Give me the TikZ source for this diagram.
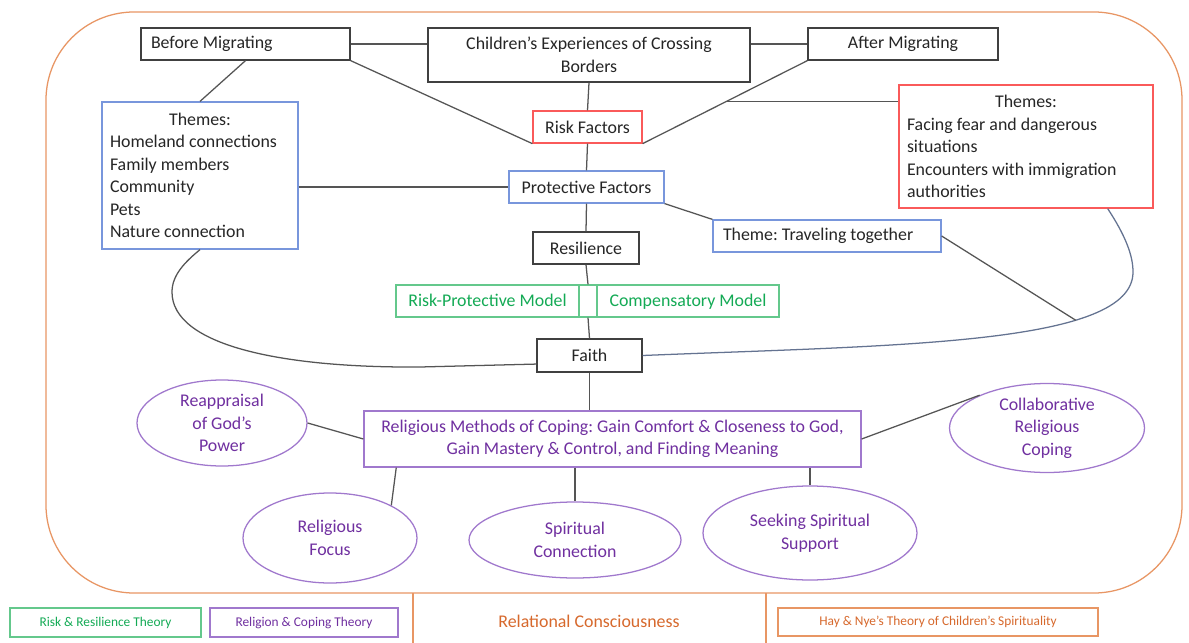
\documentclass[tikz,border=0pt]{standalone}
\usepackage{fontspec}
\setmainfont{Carlito}
\usetikzlibrary{shapes.geometric,calc}
\frenchspacing

\definecolor{txt}{RGB}{38,38,38}
\definecolor{blkline}{RGB}{64,64,64}
\definecolor{linkgray}{RGB}{85,85,85}
\definecolor{curveblue}{RGB}{100,115,145}
\definecolor{redline}{RGB}{250,90,90}
\definecolor{blueline}{RGB}{120,150,220}
\definecolor{greenline}{RGB}{100,200,140}
\definecolor{greentxt}{RGB}{20,170,85}
\definecolor{purpleline}{RGB}{160,120,205}
\definecolor{purpletxt}{RGB}{112,48,160}
\definecolor{orangeline}{RGB}{232,150,100}
\definecolor{orangetxt}{RGB}{215,105,45}

\def\pxu{0.025cm}

\begin{document}
\begin{tikzpicture}[x=0.025cm, y=-0.025cm,
    every node/.style={inner sep=0pt, text=txt, line width=0.9pt, font=\fontsize{12.7}{16}\selectfont},
    oneline/.style={text height=10pt, text depth=2pt},
    blk/.style={draw=blkline, align=center},
    riskbox/.style={draw=redline, align=center},
    protbox/.style={draw=blueline, align=center},
    modelbox/.style={draw=greenline, text=greentxt, oneline},
    copebox/.style={draw=purpleline, text=purpletxt, align=center},
    copeell/.style={ellipse, draw=purpleline, text=purpletxt, align=center},
    link/.style={draw=linkgray, line width=0.9pt},
    legend/.style={font=\fontsize{9.5}{11}\selectfont, text height=7pt, text depth=2pt}]

    \fill [white] (0,0) rectangle (1189,643);
    \useasboundingbox (0,0) rectangle (1189,643);

    \draw [orangeline, line width=0.9pt, rounded corners=2.2cm] (46,12) rectangle (1182,593);
    \draw [orangeline, line width=0.9pt] (413,593) -- (413,643) (766,593) -- (766,643);

    \node [blk, minimum height=32*\pxu, text width=189*\pxu, inner xsep=10*\pxu, align=flush left] (before) at (245.5,44) {Before Migrating};
    \node [blk, minimum width=322*\pxu, minimum height=54*\pxu] (children) at (589,55) {Children’s Experiences of Crossing\\Borders};
    \node [blk, minimum width=190*\pxu, minimum height=32*\pxu] (after) at (903,44) {After Migrating};

    \node [riskbox, minimum width=109*\pxu, minimum height=32*\pxu] (risk) at (587.5,127) {Risk Factors};
    \node [protbox, minimum width=155*\pxu, minimum height=32*\pxu] (prot) at (586.5,187) {Protective Factors};
    \node [blk, minimum width=106*\pxu, minimum height=32*\pxu] (resil) at (586,248) {Resilience};

    \node [protbox, minimum height=147*\pxu, text width=180*\pxu, inner xsep=8*\pxu, align=flush left] (lthemes) at (200,175.5)
        {\hfill Themes:\hfill\null\\Homeland connections\\Family members\\Community\\Pets\\Nature connection};
    \node [riskbox, minimum height=123*\pxu, text width=238*\pxu, inner xsep=8*\pxu, align=flush left] (rthemes) at (1026,146.5)
        {\hfill Themes:\hfill\null\\Facing fear and dangerous\\situations\\Encounters with immigration\\authorities};
    \node [protbox, minimum height=32*\pxu, text width=208*\pxu, inner xsep=10*\pxu, align=flush left] (travel) at (827,236) {Theme: Traveling together};

    \node [modelbox, minimum width=183*\pxu, minimum height=32*\pxu] (rpm) at (487.5,301) {Risk-Protective Model};
    \node [modelbox, minimum width=18*\pxu, minimum height=32*\pxu] (gap) at (588,301) {};
    \node [modelbox, minimum width=182*\pxu, minimum height=32*\pxu] (comp) at (688,301) {Compensatory Model};

    \node [blk, minimum width=105*\pxu, minimum height=33*\pxu] (faith) at (589.5,355.5) {Faith};
    \node [copebox, minimum width=497*\pxu, minimum height=56*\pxu] (rmc) at (612.5,439)
        {Religious Methods of Coping: Gain Comfort \& Closeness to God,\\Gain Mastery \& Control, and Finding Meaning};

    \node [copeell, minimum width=170*\pxu, minimum height=86*\pxu] (reap) at (222,423) {Reappraisal\\of God’s\\Power};
    \node [copeell, minimum width=174*\pxu, minimum height=90*\pxu] (focus) at (330,538) {Religious\\Focus};
    \node [copeell, minimum width=212*\pxu, minimum height=76*\pxu] (spirit) at (575,540) {Spiritual\\Connection};
    \node [copeell, minimum width=214*\pxu, minimum height=94*\pxu] (seek) at (810,533) {Seeking Spiritual\\Support};
    \node [copeell, minimum width=195*\pxu, minimum height=89*\pxu] (collab) at (1047,428) {Collaborative\\Religious\\Coping};

    \node [legend, draw=greenline, text=greentxt, minimum width=191*\pxu, minimum height=29*\pxu] (rrt) at (105.5,622.5) {Risk \& Resilience Theory};
    \node [legend, draw=purpleline, text=purpletxt, minimum width=188*\pxu, minimum height=29*\pxu] (rct) at (304,622.5) {Religion \& Coping Theory};
    \node [text=orangetxt, oneline] (relc) at (589,622) {Relational Consciousness};
    \node [legend, draw=orangeline, text=orangetxt, minimum width=320*\pxu, minimum height=28*\pxu] (hnt) at (938,622) {Hay \& Nye’s Theory of Children’s Spirituality};

    \draw [link] (before.east) -- (before.east -| children.west);
    \draw [link] (after.west -| children.east) -- (after.west);
    \draw [link] (before.south east) -- (risk.south west);
    \draw [link] (children.south) -- (risk.north);
    \draw [link] (after.south west) -- (risk.south east);
    \coordinate (br) at ($(after.south west)!0.494!(risk.south east)$);
    \draw [link] (br) -- (br -| rthemes.west);
    \draw [link] (before.south) -- (lthemes.north);

    \draw [link] (prot.west -| lthemes.east) -- (prot.west);
    \draw [link] (risk.south) -- (prot.north);
    \draw [link] (prot.south) -- (resil.north);
    \draw [link] (prot.south east) -- (travel.north west);
    \draw [link] (resil.south) -- (gap.north);
    \draw [link] (gap.south) -- (faith.north);
    \draw [link] (faith.south) -- (faith.south |- rmc.north);

    \draw [link] (lthemes.south) .. controls (185,262) and (172,275) .. (172,292)
        .. controls (172,345) and (280,368) .. (420,367) -- ($(faith.south west)!0.25!(faith.north west)$);
    \draw [link, curveblue] (faith.east) .. controls (900,345) and (1133,345) .. (1133,272) coordinate [pos=0.7] (tj)
        .. controls (1133,255) and (1125,235) .. ($(rthemes.south west)!0.82!(rthemes.south east)$);
    \draw [link] (travel.east) -- (tj);

    \draw [link] (reap.east) -- (rmc.west);
    \draw [link] (rmc.east) -- (collab.154);
    \draw [link] ($(rmc.south west)!0.066!(rmc.south east)$) -- (focus.28);
    \draw [link] (rmc.south -| spirit.north) -- (spirit.north);
    \draw [link] (rmc.south -| seek.north) -- (seek.north);

\end{tikzpicture}
\end{document}
